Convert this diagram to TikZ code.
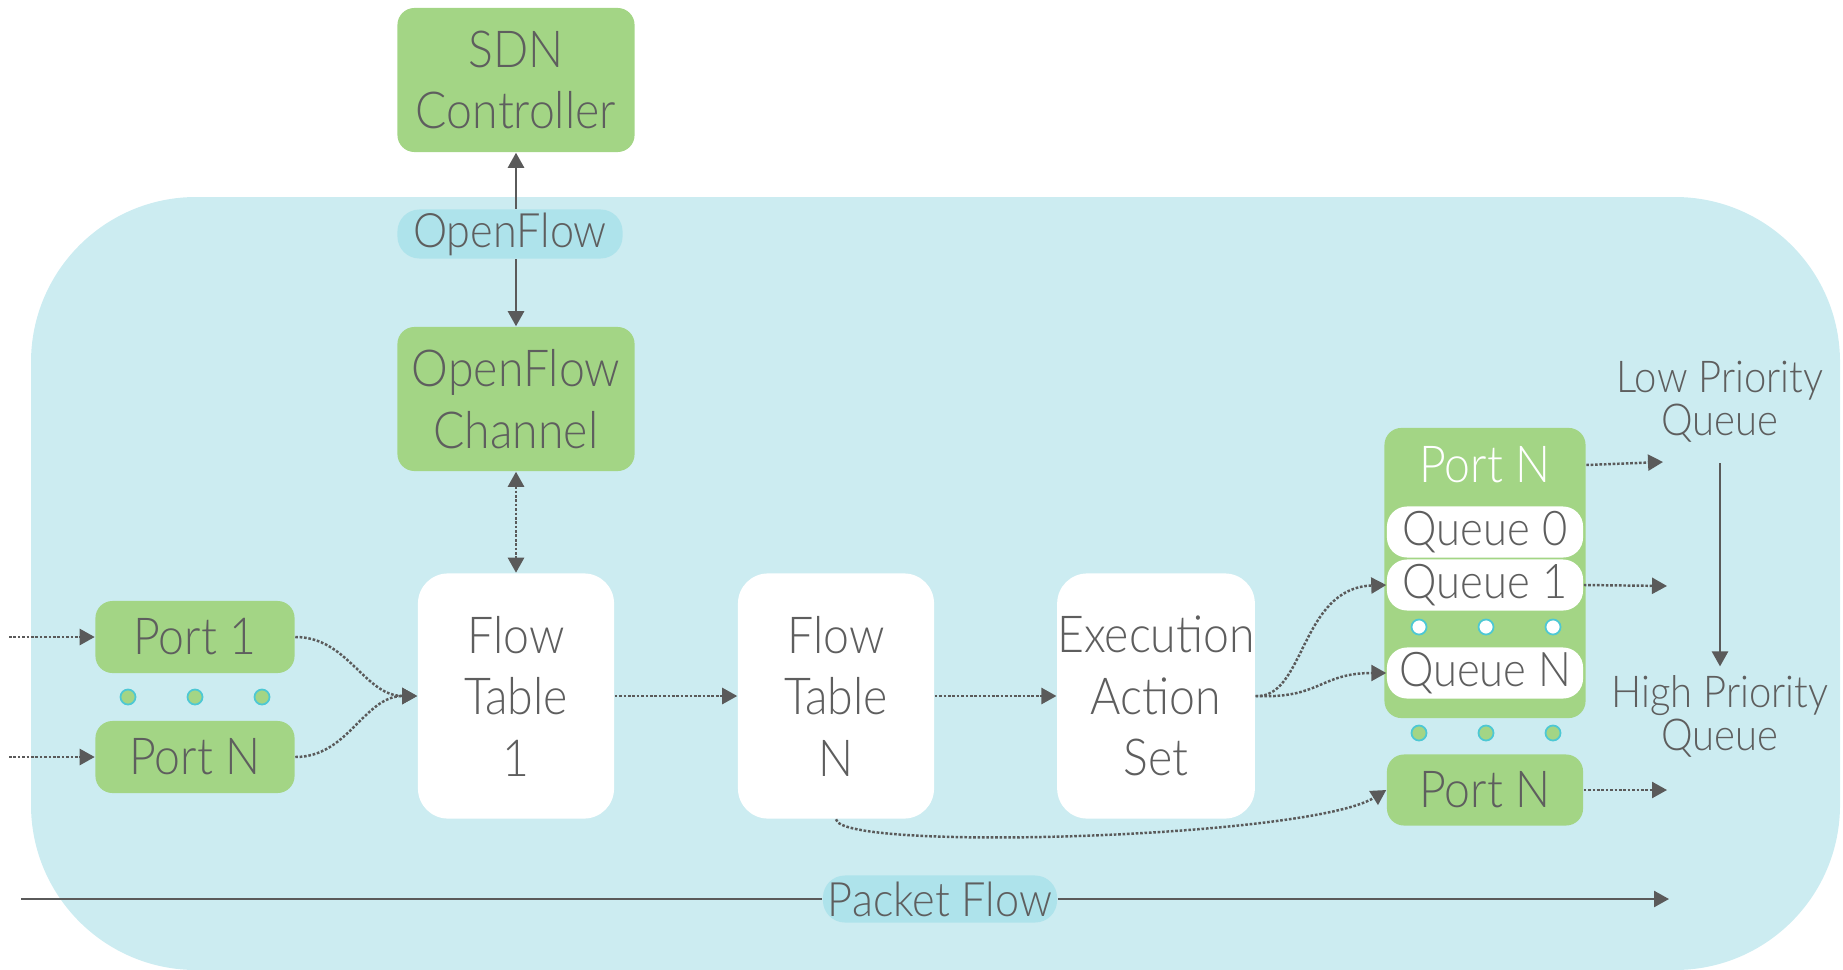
\documentclass[tikz,border=0pt]{standalone}
\usepackage{fontspec}
\setmainfont{Lato}[UprightFont={* Light}, FakeStretch=0.91]
\usetikzlibrary{arrows.meta}

\definecolor{bgcyan}{HTML}{CCECF1}
\definecolor{pillcyan}{HTML}{AEE3EB}
\definecolor{leaf}{HTML}{A3D585}
\definecolor{ink}{HTML}{5E5E5E}
\definecolor{wire}{HTML}{5A5A5A}
\definecolor{ring}{HTML}{4DC8D4}

\tikzset{
  base/.style={align=center, text=ink, inner sep=0pt,
    font=\fontsize{14.5}{17.5}\selectfont},
  greenbox/.style={base, fill=leaf, rounded corners=0.17cm},
  whitebox/.style={base, fill=white, rounded corners=0.3cm,
    minimum width=1.96cm, minimum height=2.45cm},
  portbox/.style={greenbox, minimum width=1.99cm, minimum height=0.72cm},
  queuebox/.style={base, fill=white, rounded corners=0.2cm,
    minimum width=1.96cm, minimum height=0.51cm,
    font=\fontsize{13.6}{15}\selectfont},
  pillbox/.style={base, fill=pillcyan, rounded corners=0.22cm,
    font=\fontsize{13.5}{15}\selectfont},
  sidelabel/.style={base, font=\fontsize{12.5}{12.2}\selectfont},
  gdot/.style={circle, fill=leaf, draw=ring, line width=0.5pt,
    minimum size=0.15cm, inner sep=0pt},
  wdot/.style={circle, fill=white, draw=ring, line width=0.5pt,
    minimum size=0.15cm, inner sep=0pt},
  tip/.style={-{Triangle[length=0.15cm,width=0.16cm]}},
  solidarrow/.style={tip, draw=wire, line width=0.7pt},
  dotarrow/.style={tip, draw=wire, line width=0.7pt,
    dash pattern=on 0.75pt off 0.5pt},
}

\begin{document}
\begin{tikzpicture}[x=0.01cm, y=-0.01cm]
  \useasboundingbox (0,0) rectangle (1843,970);

  % switch body
  \fill[bgcyan, rounded corners=1.65cm] (31,197) rectangle (1840,970);

  % controller and channel
  \node[greenbox, minimum width=2.37cm, minimum height=1.44cm] (sdn) at (516,80) {SDN\\Controller};
  \node[pillbox, minimum width=2.25cm, minimum height=0.49cm] (ofl) at (510,234) {OpenFlow};
  \node[greenbox, minimum width=2.37cm, minimum height=1.44cm] (chan) at (516,399) {OpenFlow\\Channel};

  \draw[solidarrow] (ofl.north -| sdn.south) -- (sdn.south);
  \draw[solidarrow] (ofl.south -| chan.north) -- (chan.north);

  % pipeline
  \node[whitebox] (ft1) at (516,696) {Flow\\Table\\1};
  \node[whitebox] (ftn) at (836,696) {Flow\\Table\\N};
  \node[whitebox] (eas) at (1156,696) {Execution\\Action\\Set};

  \draw[dotarrow, {Triangle[length=0.15cm,width=0.16cm]}-{Triangle[length=0.15cm,width=0.16cm]}]
    (chan.south) -- (ft1.north);

  % ingress ports
  \node[portbox] (p1) at (195,637) {Port 1};
  \node[portbox] (pn) at (195,757) {Port N};
  \node[gdot] (d1) at (128,697) {};
  \node[gdot] (d2) at (195,697) {};
  \node[gdot] (d3) at (262,697) {};

  \coordinate (in1) at (9,637);
  \coordinate (in2) at (9,757);
  \draw[dotarrow] (in1) -- (p1.west);
  \draw[dotarrow] (in2) -- (pn.west);
  \draw[dotarrow] (p1.east) to[out=0, in=180] (ft1.west);
  \draw[dotarrow] (pn.east) to[out=0, in=180] (ft1.west);

  \draw[dotarrow] (ft1.east) -- (ftn.west);
  \draw[dotarrow] (ftn.east) -- (eas.west);

  % egress port with queues
  \node[greenbox, minimum width=2.01cm, minimum height=2.90cm] (cont) at (1485,573) {};
  \node[base, text=white] (contlbl) at (1485,465) {Port N};
  \node[queuebox] (q0) at (1485,532) {Queue 0};
  \node[queuebox] (q1) at (1485,585) {Queue 1};
  \node[wdot] (w1) at (1419,627) {};
  \node[wdot] (w2) at (1486,627) {};
  \node[wdot] (w3) at (1553,627) {};
  \node[queuebox] (qn) at (1485,673) {Queue N};
  \node[gdot] (g1) at (1419,733) {};
  \node[gdot] (g2) at (1486,733) {};
  \node[gdot] (g3) at (1553,733) {};
  \node[portbox, minimum width=1.96cm, minimum height=0.71cm] (pn2) at (1485,790) {Port N};

  \draw[dotarrow] (eas.east) .. controls (1305,699) and (1300,588) .. (q1.west);
  \draw[dotarrow] (eas.east) .. controls (1320,699) and (1320,673) .. (qn.west);
  \draw[dotarrow] (ftn.south) .. controls (840,852) and (1310,838) .. (pn2.west);

  \coordinate (o1) at (1663,462);
  \coordinate (o2) at (1667,586);
  \coordinate (o3) at (1667,790);
  \draw[dotarrow] (contlbl -| cont.east) -- (o1);
  \draw[dotarrow] (q1.east) -- (o2);
  \draw[dotarrow] (pn2.east) -- (o3);

  % priority scale
  \node[sidelabel] (low) at (1720,402) {Low Priority\\Queue};
  \node[sidelabel] (high) at (1720,716) {High Priority\\Queue};
  \draw[solidarrow, shorten <=0.2cm, shorten >=0.08cm] (low.south) -- (high.north);

  % packet flow
  \coordinate (pfs) at (21,899);
  \coordinate (pfe) at (1669,899);
  \node[pillbox, minimum width=2.34cm, minimum height=0.47cm] (pf) at (940,899) {Packet Flow};
  \draw[wire, line width=0.7pt] (pfs) -- (pf.west);
  \draw[solidarrow] (pf.east) -- (pfe);
\end{tikzpicture}
\end{document}
